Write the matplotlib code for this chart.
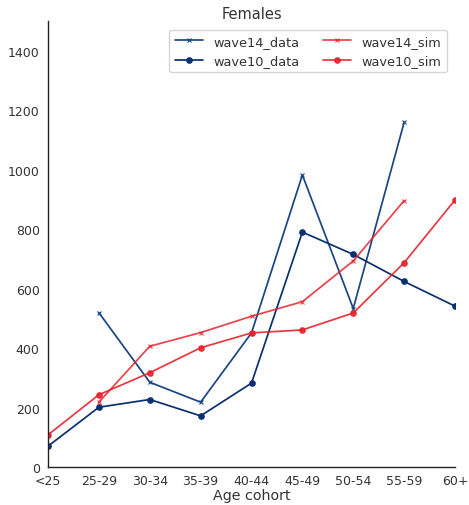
import numpy as np
import matplotlib
matplotlib.use("Agg")
import matplotlib.pyplot as plt
import seaborn as sns

sns.set_style("white")
plt.rcParams['font.family'] = ['DejaVu Sans']

cohorts = ["<25", "25-29", "30-34", "35-39", "40-44", "45-49", "50-54", "55-59", "60+"]
wave14_data = [np.nan, 519, 285, 218, 451, 982, 533, 1159, np.nan]
wave10_data = [70, 201, 227, 172, 282, 790, 715, 624, 541]
wave14_sim = [np.nan, 218, 406, 452, 507, 556, 693, 896, np.nan]
wave10_sim = [108, 243, 317, 401, 451, 461, 518, 687, 898]

navy = "#0a3070"
navy_light = "#1a4585"
red = "#e8212b"

fig = plt.figure(figsize=(4.69, 5.06), dpi=100)
ax = fig.add_axes([48/469, 1 - 468/506, (455-48)/469, (468-22)/506])
x = np.arange(len(cohorts))

ax.plot(x, wave14_data, color=navy_light, marker="x", markersize=3.5, mew=0.8,
        lw=1.25, label="wave14_data")
ax.plot(x, wave10_data, color=navy, marker="o", markersize=3.8,
        lw=1.25, label="wave10_data")
ax.plot(x, wave14_sim, color=red, marker="x", markersize=3.5, mew=0.8,
        lw=1.25, alpha=0.85, label="wave14_sim")
ax.plot(x, wave10_sim, color=red, marker="o", markersize=3.8,
        lw=1.25, alpha=0.9, label="wave10_sim")

ax.set_xlim(0, len(cohorts) - 1)
ax.set_ylim(0, 1500)
ax.set_xticks(x)
ax.set_xticklabels(cohorts)
ax.set_yticks(np.arange(0, 1401, 200))
ax.tick_params(labelsize=9, colors="#333333", length=0)
ax.tick_params(axis="y", pad=6)
ax.tick_params(axis="x", pad=5)
for s in ["top", "right"]:
    ax.spines[s].set_visible(False)
for s in ["left", "bottom"]:
    ax.spines[s].set_color("#222222")
    ax.spines[s].set_linewidth(1.0)
ax.set_xlabel("Age cohort", fontsize=10.3, color="#333333", labelpad=1)
ax.set_title("Females", fontsize=10.5, color="#333333", pad=2)
leg = ax.legend(ncol=2, loc="upper right", fontsize=9.3, frameon=True,
                bbox_to_anchor=(0.995, 0.995), columnspacing=1.8,
                handlelength=2.2, handletextpad=0.8)
for t in leg.get_texts():
    t.set_color("#333333")

fig.savefig("out.png", dpi=100)
